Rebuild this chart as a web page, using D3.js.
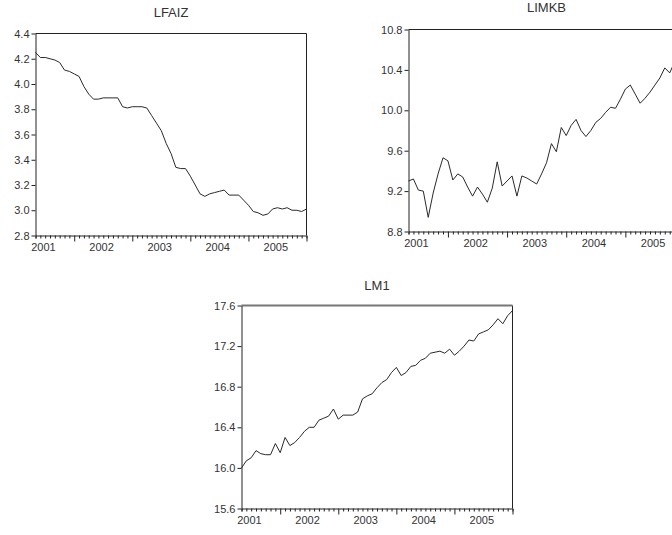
<!DOCTYPE html>
<html>
<head>
<meta charset="utf-8">
<script src="https://cdn.jsdelivr.net/npm/d3@7"></script>
<style>
  html, body { margin: 0; padding: 0; background: #fff; }
  svg { display: block; }
  text { font-family: "Liberation Sans", Arial, sans-serif; fill: #333; }
</style>
</head>
<body>
<svg id="chart" width="672" height="535"></svg>
<script>
// Monthly observations, 2001M01 .. 2005M09
const yearLabels = ["2001", "2002", "2003", "2004", "2005"];

const lfaiz = [4.25, 4.21, 4.21, 4.20, 4.19, 4.17, 4.11, 4.10, 4.08, 4.06,
  3.98, 3.92, 3.88, 3.88, 3.89, 3.89, 3.89, 3.89, 3.82, 3.81,
  3.82, 3.82, 3.82, 3.81, 3.75, 3.69, 3.63, 3.53, 3.45, 3.34,
  3.33, 3.33, 3.27, 3.20, 3.13, 3.11, 3.13, 3.14, 3.15, 3.16,
  3.12, 3.12, 3.12, 3.08, 3.04, 2.99, 2.98, 2.96, 2.97, 3.01,
  3.02, 3.01, 3.02, 3.00, 3.00, 2.99, 3.01];

const limkb = [9.30, 9.32, 9.21, 9.20, 8.94, 9.18, 9.37, 9.53, 9.50, 9.31,
  9.37, 9.34, 9.24, 9.15, 9.24, 9.17, 9.09, 9.23, 9.49, 9.25,
  9.30, 9.35, 9.15, 9.35, 9.33, 9.30, 9.27, 9.37, 9.48, 9.67,
  9.59, 9.83, 9.75, 9.85, 9.91, 9.80, 9.74, 9.80, 9.88, 9.92,
  9.98, 10.03, 10.02, 10.11, 10.21, 10.25, 10.16, 10.07, 10.12, 10.18,
  10.25, 10.32, 10.42, 10.37, 10.48, 10.50, 10.55];

const lm1 = [16.00, 16.07, 16.10, 16.17, 16.14, 16.13, 16.13, 16.24, 16.15, 16.30,
  16.22, 16.25, 16.30, 16.36, 16.40, 16.40, 16.47, 16.49, 16.51, 16.58,
  16.48, 16.52, 16.52, 16.52, 16.55, 16.68, 16.71, 16.73, 16.79, 16.84,
  16.87, 16.94, 16.99, 16.91, 16.94, 17.00, 17.01, 17.06, 17.08, 17.13,
  17.14, 17.15, 17.13, 17.17, 17.11, 17.15, 17.20, 17.26, 17.25, 17.32,
  17.34, 17.36, 17.41, 17.47, 17.42, 17.50, 17.55];

const lfaizTicks = [2.8, 3.0, 3.2, 3.4, 3.6, 3.8, 4.0, 4.2, 4.4];
const limkbTicks = [8.8, 9.2, 9.6, 10.0, 10.4, 10.8];
const lm1Ticks = [15.6, 16.0, 16.4, 16.8, 17.2, 17.6];

const panels = [
  { title: "LFAIZ", values: lfaiz, ticks: lfaizTicks, domain: [2.8, 4.4],
    box: { left: 35.5, right: 306.5, top: 33.5, bottom: 235.5 }, titleY: 17, topStroke: "#222", topWidth: 1 },
  { title: "LIMKB", values: limkb, ticks: limkbTicks, domain: [8.8, 10.8],
    box: { left: 408.5, right: 684.5, top: 29.5, bottom: 231.5 }, titleY: 12, topStroke: "#222", topWidth: 1 },
  { title: "LM1", values: lm1, ticks: lm1Ticks, domain: [15.6, 17.6],
    box: { left: 241.5, right: 512.5, top: 305.5, bottom: 508.5 }, titleY: 290, topStroke: "#777", topWidth: 2 }
];

const svg = d3.select("#chart");

panels.forEach(p => {
  const b = p.box;
  const n = p.values.length;
  const x = d3.scaleLinear().domain([0, n - 1]).range([b.left, b.right]);
  const y = d3.scaleLinear().domain(p.domain).range([b.bottom, b.top]);
  const g = svg.append("g");

  // Title
  g.append("text")
    .attr("x", (b.left + b.right) / 2)
    .attr("y", p.titleY)
    .attr("text-anchor", "middle")
    .attr("font-size", 13)
    .text(p.title);

  // Frame: right side and top
  g.append("line").attr("x1", b.right).attr("x2", b.right)
    .attr("y1", b.top).attr("y2", b.bottom)
    .attr("stroke", "#222").attr("stroke-width", 1);
  g.append("line").attr("x1", b.left).attr("x2", b.right)
    .attr("y1", b.top).attr("y2", b.top)
    .attr("stroke", p.topStroke).attr("stroke-width", p.topWidth);

  // Left value axis
  const yAxis = d3.axisLeft(y).tickValues(p.ticks).tickSize(4).tickSizeOuter(0)
    .tickFormat(d3.format(".1f"));
  const ya = g.append("g").attr("transform", `translate(${b.left},0)`).call(yAxis);
  ya.select(".domain").attr("stroke", "#222");
  ya.selectAll(".tick line").attr("stroke", "#222");
  ya.selectAll(".tick text").attr("font-size", 11).attr("fill", "#333")
    .attr("font-family", "Liberation Sans, Arial, sans-serif").attr("dx", 1);

  // Bottom time axis: a small tick every month, longer ticks once a year
  const months = d3.range(n);
  const xAxis = d3.axisBottom(x).tickValues(months).tickSizeOuter(0)
    .tickSize(3).tickFormat("");
  const xa = g.append("g").attr("transform", `translate(0,${b.bottom})`).call(xAxis);
  xa.select(".domain").attr("stroke", "#222");
  xa.selectAll(".tick line")
    .attr("stroke", "#222")
    .attr("y2", d => (d % 12 === 8 ? 6 : 3));

  // Year labels set just after each January
  yearLabels.forEach((yr, k) => {
    g.append("text")
      .attr("x", x(k * 12) + 8)
      .attr("y", b.bottom + 15)
      .attr("text-anchor", "middle")
      .attr("font-size", 11)
      .text(yr);
  });

  // Series line
  const line = d3.line().x((d, i) => x(i)).y(d => y(d));
  g.append("path")
    .datum(p.values)
    .attr("fill", "none")
    .attr("stroke", "#2a2a2a")
    .attr("stroke-width", 1)
    .attr("stroke-linejoin", "round")
    .attr("d", line);
});
</script>
</body>
</html>
